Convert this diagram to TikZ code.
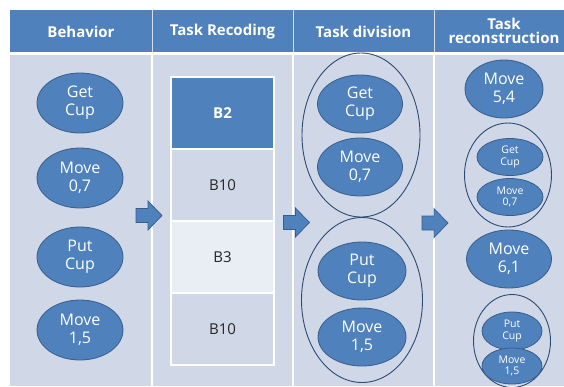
\documentclass[tikz,border=0pt]{standalone}
\usepackage{fontspec}
\setmainfont{Open Sans}
\usetikzlibrary{shapes.geometric}
\definecolor{hdr}{HTML}{4F81BD}
\definecolor{bodybg}{HTML}{D0D8E8}
\definecolor{celllight}{HTML}{E9EDF4}
\definecolor{edge}{HTML}{385D8A}
\definecolor{ring}{HTML}{2C4A74}
\tikzset{
  hdrtext/.style={text=white,font=\bfseries\fontsize{15}{16}\selectfont,align=center},
  blob/.style={ellipse,fill=hdr,draw=edge,line width=0.8pt,text=white,align=center,inner sep=0pt,font=\fontsize{16}{18}\selectfont},
  smallblob/.style={blob,font=\fontsize{10.5}{11.5}\selectfont},
  ringshape/.style={ellipse,draw=ring,line width=0.9pt,inner sep=0pt},
  cell/.style={rectangle,draw=white,line width=1.2pt,minimum width=103pt,minimum height=72pt,inner sep=0pt,font=\fontsize{15}{17}\selectfont,text=black!85},
  blockarrow/.style={fill=hdr,draw=edge,line width=0.7pt,line join=miter},
}
% block arrow: #1 = anchor coordinate name (left end, mid height)
\newcommand{\myarrow}[1]{%
  \draw[blockarrow] ([shift={(0,-7)}]#1) -- ++(12,0) -- ++(0,-7.5) -- ++(14,14.5) -- ++(-14,14.5) -- ++(0,-7.5) -- ++(-12,0) -- cycle;}
\begin{document}
\begin{tikzpicture}[x=1pt,y=-1pt]
\useasboundingbox (0,0) rectangle (564,386);
\fill[white] (0,0) rectangle (564,386);
% header and body
\fill[hdr] (10,10) rectangle (564,52);
\fill[bodybg] (10,55) rectangle (564,386);
\foreach \xx in {152,293,434} {
  \draw[white!75!hdr,line width=1pt] (\xx,10) -- (\xx,52);
  \draw[white,line width=1.5pt] (\xx,55) -- (\xx,386);
}
\node[hdrtext] (h1) at (81,32) {Behavior};
\node[hdrtext] (h2) at (222.5,32) {Task Recoding};
\node[hdrtext] (h3) at (363.5,32) {Task division};
\node[hdrtext] (h4) at (504,31) {Task\\[-2pt]reconstruction};
% column 1
\node[blob,minimum width=86pt,minimum height=60pt] (a1) at (80,103) {Get\\Cup};
\node[blob,minimum width=86pt,minimum height=60pt] (a2) at (80,178) {Move\\0,7};
\node[blob,minimum width=86pt,minimum height=60pt] (a3) at (80,257) {Put\\Cup};
\node[blob,minimum width=86pt,minimum height=60pt] (a4) at (80,330) {Move\\1,5};
% arrow 1
\coordinate (r1) at (136,215.5);
\myarrow{r1}
% column 2
\node[cell,fill=hdr,text=white,font=\bfseries\fontsize{15}{17}\selectfont] (b1) at (222.5,113) {B2};
\node[cell,fill=bodybg] (b2) at (222.5,185) {B10};
\node[cell,fill=celllight] (b3) at (222.5,257) {B3};
\node[cell,fill=bodybg] (b4) at (222.5,329) {B10};
% arrow 2
\coordinate (r2) at (283.5,222.5);
\myarrow{r2}
% column 3
\node[ringshape,minimum width=118pt,minimum height=164pt] (g1) at (361,135) {};
\node[blob,minimum width=85pt,minimum height=58pt] (c1) at (360,104) {Get\\Cup};
\node[blob,minimum width=85pt,minimum height=58pt] (c2) at (360,167) {Move\\0,7};
\node[ringshape,minimum width=121pt,minimum height=165pt] (g2) at (362,300) {};
\node[blob,minimum width=88pt,minimum height=58pt] (c3) at (362,271) {Put\\Cup};
\node[blob,minimum width=88pt,minimum height=58pt] (c4) at (362,337) {Move\\1,5};
% arrow 3
\coordinate (r3) at (422,223);
\myarrow{r3}
% column 4
\node[blob,minimum width=78pt,minimum height=58pt] (d1) at (504,89) {Move\\5,4};
\node[ringshape,minimum width=87pt,minimum height=104pt] (g3) at (508,175) {};
\node[smallblob,minimum width=66pt,minimum height=37pt] (d2) at (510,157) {Get\\Cup};
\node[smallblob,minimum width=66pt,minimum height=37pt] (d3) at (510,197) {Move\\0,7};
\node[blob,minimum width=85pt,minimum height=58pt] (d4) at (509,259) {Move\\6,1};
\node[ringshape,minimum width=77pt,minimum height=93pt] (g4) at (512,341) {};
\node[smallblob,minimum width=60pt,minimum height=38pt] (d5) at (512,331) {Put\\Cup};
\node[smallblob,minimum width=60pt,minimum height=36pt] (d6) at (512,366) {Move\\1,5};
\end{tikzpicture}
\end{document}
